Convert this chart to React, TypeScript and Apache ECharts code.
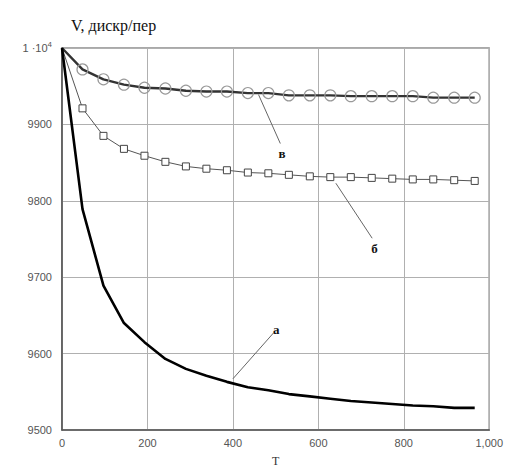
import React, { useEffect, useRef } from "react";
import * as echarts from "echarts";

const T = [0, 48, 97, 145, 193, 242, 290, 338, 386, 435, 483, 531, 580, 628, 676, 725, 773, 821, 869, 918, 966];
const seriesA = [10000, 9789, 9689, 9640, 9615, 9593, 9580, 9571, 9563, 9556, 9552, 9547, 9544, 9541, 9538, 9536, 9534, 9532, 9531, 9529, 9529];
const seriesB = [10000, 9921, 9885, 9868, 9859, 9851, 9845, 9842, 9840, 9837, 9836, 9834, 9832, 9831, 9831, 9830, 9829, 9828, 9828, 9827, 9826];
const seriesV = [10000, 9972, 9959, 9952, 9948, 9947, 9944, 9943, 9943, 9941, 9941, 9938, 9938, 9938, 9937, 9937, 9937, 9937, 9935, 9935, 9935];
const xTicks = { min: 0, max: 1000, interval: 200 };
const yTicks = { min: 9500, max: 10000, interval: 100 };

const pairs = (ys: number[]) =>
  T.map((t, i) => (i === 0 ? { value: [t, ys[i]], symbol: "none" } : { value: [t, ys[i]] }));

const letterStyle = {
  show: true,
  position: "end" as const,
  fontFamily: "Liberation Serif",
  fontWeight: "bold" as const,
  fontSize: 13,
  color: "#111",
  distance: 4,
};
const leader = (a: number[], b: number[], text: string) => ({
  silent: true,
  symbol: ["none", "none"],
  lineStyle: { color: "#666", width: 1, type: "solid" as const },
  label: { ...letterStyle, formatter: text },
  data: [[{ coord: a }, { coord: b }]],
});

export default function App() {
  const ref = useRef<HTMLDivElement>(null);
  useEffect(() => {
    if (!ref.current) return;
    const chart = echarts.init(ref.current, undefined, { renderer: "svg" });
    chart.setOption({
      animation: false,
      backgroundColor: "#fff",
      title: {
        text: "V, дискр/пер",
        left: 66,
        top: 12,
        textStyle: { fontFamily: "Liberation Serif", fontSize: 16, fontWeight: "normal", color: "#111" },
      },
      grid: {
        left: 62,
        top: 48,
        right: 14,
        bottom: 37,
        show: true,
        borderColor: "#555",
        borderWidth: 1.2,
        backgroundColor: "transparent",
      },
      xAxis: {
        type: "value",
        ...xTicks,
        name: "T",
        nameLocation: "middle",
        nameGap: 25,
        nameTextStyle: { fontFamily: "Liberation Serif", fontSize: 12, color: "#333" },
        axisLine: { show: true, lineStyle: { color: "#555", width: 1.5 } },
        axisTick: { show: false },
        axisLabel: { fontFamily: "Liberation Sans", fontSize: 11, color: "#555", margin: 7 },
        splitLine: { show: true, lineStyle: { color: "#b0b0b0", width: 1 } },
      },
      yAxis: {
        type: "value",
        ...yTicks,
        axisLine: { show: true, lineStyle: { color: "#555", width: 1.5 } },
        axisTick: { show: false },
        axisLabel: {
          fontFamily: "Liberation Sans",
          fontSize: 11,
          color: "#555",
          margin: 10,
          formatter: (v: number) => (v === 10000 ? "1 ·10{sup|4}" : String(v)),
          rich: { sup: { fontSize: 8, verticalAlign: "bottom", padding: [0, 0, 8, 0], color: "#555", fontFamily: "Liberation Sans" } },
        },
        splitLine: { show: true, lineStyle: { color: "#b0b0b0", width: 1 } },
      },
      series: [
        {
          name: "а",
          type: "line",
          data: pairs(seriesA),
          showSymbol: false,
          symbol: "none",
          lineStyle: { color: "#000", width: 2.6 },
          z: 3,
          markLine: leader([400, 9567], [495, 9627], "а"),
        },
        {
          name: "б",
          type: "line",
          data: pairs(seriesB),
          symbol: "rect",
          symbolSize: 7,
          showAllSymbol: true,
          itemStyle: { color: "#fff", borderColor: "#444", borderWidth: 1 },
          lineStyle: { color: "#555", width: 1 },
          z: 2,
          markLine: leader([641, 9823], [726, 9751], "б"),
        },
        {
          name: "в",
          type: "line",
          data: pairs(seriesV),
          symbol: "circle",
          symbolSize: 11,
          showAllSymbol: true,
          itemStyle: { color: "rgba(255,255,255,0)", borderColor: "#999", borderWidth: 1.2 },
          lineStyle: { color: "#333", width: 2.4 },
          z: 2,
          markLine: leader([460, 9939], [511, 9875], "в"),
        },
      ],
    });
    return () => chart.dispose();
  }, []);
  return <div ref={ref} style={{ position: "fixed", left: 0, top: 0, width: 506, height: 472 }} />;
}
